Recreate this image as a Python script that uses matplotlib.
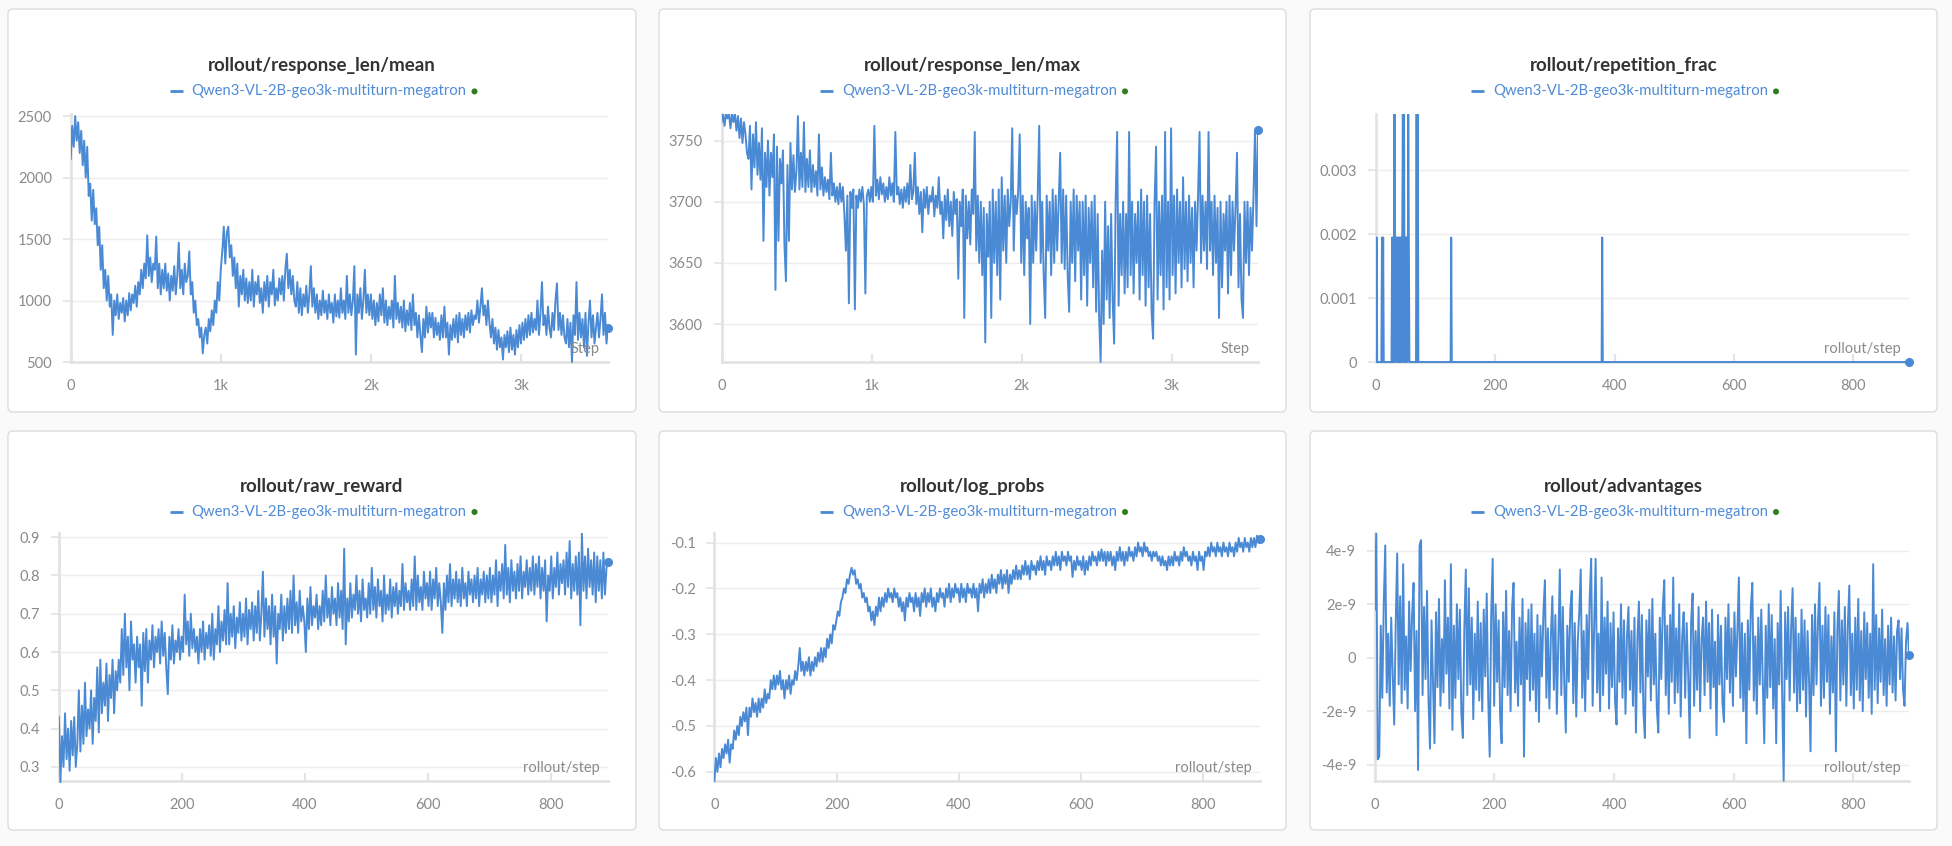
import numpy as np
import matplotlib
matplotlib.use("Agg")
import matplotlib.pyplot as plt
from matplotlib.patches import FancyBboxPatch, Ellipse
from matplotlib.lines import Line2D
from matplotlib.transforms import IdentityTransform, Bbox, TransformedBbox

plt.rcParams['font.family'] = ['Lato', 'DejaVu Sans']

# ---------------- data ----------------
RUN_NAME = "Qwen3-VL-2B-geo3k-multiturn-megatron"
TITLES = ["rollout/response_len/mean", "rollout/response_len/max", "rollout/repetition_frac",
          "rollout/raw_reward", "rollout/log_probs", "rollout/advantages"]
X_LABELS = ["Step", "Step", "rollout/step", "rollout/step", "rollout/step", "rollout/step"]
LAST_STEP = 3576
LAST_ROLLOUT_STEP = 893

# sampled every ~10 steps (0 .. 3576)
resp_len_mean = [
    2150, 2420, 2250, 2500, 2300, 2450, 2200, 2380, 2100, 2300,
    2000, 2250, 1850, 1950, 1650, 1900, 1620, 1750, 1450, 1600,
    1250, 1450, 1100, 1250, 1000, 1200, 950, 1050, 720, 1000,
    880, 1050, 850, 980, 900, 1020, 830, 1000, 880, 1060,
    920, 1050, 980, 1120, 950, 1150, 1050, 1250, 1100, 1300,
    1180, 1530, 1200, 1350, 1150, 1300, 1250, 1520, 1100, 1300,
    1050, 1250, 1100, 1300, 1080, 1220, 1000, 1200, 1080, 1280,
    1050, 1200, 1470, 1100, 1250, 1050, 1300, 1150, 1200, 1400,
    1050, 1150, 900, 1000, 800, 850, 700, 780, 570, 720,
    780, 650, 850, 750, 920, 800, 1000, 900, 1150, 1000,
    1250, 1400, 1600, 1300, 1550, 1600, 1350, 1450, 1200, 1350,
    1100, 1300, 950, 1200, 1050, 1250, 1000, 1180, 980, 1150,
    1000, 1250, 950, 1150, 1050, 1200, 980, 1100, 900, 1150,
    1000, 1200, 950, 1150, 1050, 1250, 960, 1100, 1000, 1180,
    1050, 1200, 1000, 1250, 1380, 1100, 1250, 1050, 1200, 1000,
    950, 1150, 900, 1100, 880, 1050, 950, 1120, 900, 1050,
    1280, 950, 1100, 900, 1050, 850, 1000, 880, 1080, 900,
    1000, 850, 1050, 900, 980, 820, 1050, 870, 1000, 860,
    1100, 900, 1000, 850, 1200, 900, 1050, 880, 1000, 1280,
    560, 1050, 900, 1100, 850, 1000, 1250, 900, 1050, 880,
    1050, 850, 1000, 800, 980, 830, 1050, 880, 1100, 820,
    1000, 800, 950, 850, 1000, 780, 1200, 850, 980, 820,
    950, 780, 1000, 750, 920, 800, 980, 760, 1050, 800,
    900, 700, 880, 720, 580, 850, 700, 950, 740, 900,
    780, 900, 700, 860, 720, 820, 680, 880, 700, 950,
    700, 820, 560, 800, 680, 850, 700, 880, 660, 900,
    720, 850, 700, 880, 760, 900, 740, 920, 800, 880,
    850, 1000, 820, 950, 1100, 880, 960, 800, 1000, 820,
    700, 850, 650, 780, 600, 760, 620, 700, 520, 720,
    620, 750, 580, 780, 600, 720, 560, 760, 620, 800,
    650, 820, 680, 850, 700, 880, 720, 900, 740, 850,
    760, 1000, 720, 900, 1150, 800, 880, 720, 950, 780,
    700, 900, 760, 1000, 1140, 760, 900, 720, 880, 700,
    650, 850, 620, 820, 500, 880, 720, 1150, 680, 900,
    700, 850, 620, 900, 550, 820, 1000, 700, 880, 650,
    780, 900, 700, 850, 1050, 720, 900, 650, 780]

resp_len_max = [
    3765, 3772, 3762, 3772, 3768, 3772, 3760, 3772, 3765, 3772,
    3758, 3770, 3752, 3768, 3748, 3765, 3755, 3740, 3735, 3762,
    3710, 3755, 3728, 3765, 3722, 3748, 3718, 3760, 3668, 3740,
    3712, 3750, 3705, 3740, 3720, 3755, 3628, 3745, 3668, 3735,
    3715, 3742, 3665, 3635, 3730, 3668, 3748, 3710, 3738, 3708,
    3725, 3770, 3710, 3740, 3712, 3765, 3708, 3735, 3712, 3742,
    3708, 3730, 3712, 3725, 3705, 3755, 3710, 3728, 3705, 3720,
    3708, 3718, 3702, 3740, 3705, 3715, 3700, 3712, 3698, 3715,
    3700, 3712, 3690, 3660, 3705, 3617, 3708, 3695, 3710, 3612,
    3705, 3695, 3710, 3700, 3712, 3698, 3625, 3705, 3710, 3700,
    3712, 3700, 3762, 3705, 3718, 3702, 3720, 3706, 3715, 3700,
    3712, 3702, 3720, 3705, 3715, 3700, 3757, 3706, 3712, 3698,
    3710, 3695, 3712, 3700, 3715, 3698, 3730, 3702, 3708, 3740,
    3698, 3712, 3690, 3708, 3675, 3710, 3695, 3712, 3690, 3705,
    3700, 3712, 3688, 3705, 3695, 3720, 3690, 3700, 3670, 3705,
    3685, 3710, 3680, 3700, 3672, 3708, 3690, 3702, 3637, 3700,
    3680, 3710, 3605, 3705, 3670, 3700, 3665, 3710, 3690, 3757,
    3660, 3705, 3650, 3700, 3640, 3695, 3585, 3690, 3655, 3700,
    3605, 3710, 3650, 3700, 3640, 3710, 3620, 3720, 3660, 3705,
    3650, 3710, 3680, 3700, 3760, 3660, 3705, 3690, 3710, 3755,
    3650, 3705, 3640, 3700, 3670, 3695, 3600, 3705, 3650, 3700,
    3660, 3705, 3762, 3650, 3700, 3640, 3605, 3705, 3660, 3700,
    3640, 3710, 3650, 3705, 3660, 3700, 3740, 3650, 3710, 3645,
    3705, 3640, 3610, 3700, 3650, 3710, 3635, 3705, 3660, 3700,
    3620, 3700, 3640, 3705, 3615, 3695, 3650, 3700, 3630, 3705,
    3610, 3690, 3605, 3569, 3660, 3600, 3700, 3620, 3680, 3605,
    3690, 3620, 3584, 3700, 3757, 3615, 3690, 3640, 3700, 3625,
    3690, 3630, 3757, 3640, 3700, 3625, 3690, 3650, 3700, 3620,
    3710, 3640, 3700, 3615, 3705, 3630, 3690, 3610, 3588, 3700,
    3745, 3620, 3700, 3640, 3705, 3612, 3757, 3630, 3700, 3620,
    3760, 3640, 3705, 3625, 3710, 3650, 3700, 3630, 3720, 3645,
    3700, 3635, 3705, 3650, 3695, 3630, 3700, 3660, 3705, 3757,
    3650, 3705, 3660, 3700, 3645, 3757, 3660, 3700, 3640, 3705,
    3650, 3695, 3605, 3700, 3630, 3690, 3660, 3700, 3625, 3705,
    3640, 3700, 3660, 3695, 3740, 3630, 3690, 3620, 3605, 3700,
    3650, 3700, 3640, 3695, 3660, 3705, 3758, 3680, 3759]

# repetition_frac is 0 everywhere except at these rollout steps
rep_frac_steps = [1, 10, 12, 27, 29, 31, 33, 34, 36, 38, 40, 42, 44, 45, 47, 49, 51, 52,
                  54, 55, 68, 70, 126, 379]
rep_frac_values = [0.00195, 0.00195, 0.00195, 0.00195, 0.00195, 0.0039, 0.00195, 0.00195,
                   0.00195, 0.00195, 0.00195, 0.00195, 0.00195, 0.0039, 0.0039, 0.00195,
                   0.00195, 0.00195, 0.0039, 0.00195, 0.0039, 0.0039, 0.00195, 0.00195]

# sampled every ~2.5 rollout steps (0 .. 893)
raw_reward = [
    0.43, 0.26, 0.38, 0.30, 0.44, 0.32, 0.40, 0.29, 0.42, 0.33,
    0.43, 0.30, 0.36, 0.50, 0.34, 0.46, 0.36, 0.52, 0.38, 0.45,
    0.40, 0.50, 0.36, 0.48, 0.42, 0.56, 0.39, 0.58, 0.44, 0.52,
    0.46, 0.57, 0.42, 0.54, 0.48, 0.58, 0.44, 0.55, 0.50, 0.58,
    0.52, 0.66, 0.54, 0.70, 0.56, 0.64, 0.50, 0.68, 0.58, 0.62,
    0.52, 0.64, 0.56, 0.62, 0.46, 0.65, 0.55, 0.66, 0.52, 0.63,
    0.58, 0.67, 0.56, 0.64, 0.60, 0.66, 0.57, 0.68, 0.59, 0.65,
    0.56, 0.49, 0.64, 0.58, 0.67, 0.57, 0.63, 0.60, 0.66, 0.58,
    0.64, 0.60, 0.75, 0.62, 0.68, 0.59, 0.70, 0.61, 0.66, 0.60,
    0.64, 0.57, 0.66, 0.60, 0.68, 0.58, 0.65, 0.61, 0.67, 0.59,
    0.70, 0.58, 0.66, 0.62, 0.72, 0.60, 0.68, 0.63, 0.71, 0.62,
    0.78, 0.62, 0.70, 0.64, 0.72, 0.61, 0.69, 0.65, 0.73, 0.63,
    0.70, 0.64, 0.74, 0.62, 0.71, 0.66, 0.73, 0.63, 0.72, 0.65,
    0.76, 0.63, 0.70, 0.81, 0.64, 0.74, 0.66, 0.72, 0.62, 0.75,
    0.64, 0.72, 0.57, 0.70, 0.66, 0.75, 0.63, 0.72, 0.65, 0.74,
    0.66, 0.76, 0.65, 0.80, 0.67, 0.73, 0.65, 0.76, 0.68, 0.72,
    0.68, 0.60, 0.74, 0.66, 0.77, 0.67, 0.72, 0.69, 0.75, 0.66,
    0.72, 0.67, 0.76, 0.68, 0.80, 0.69, 0.74, 0.67, 0.77, 0.70,
    0.74, 0.67, 0.78, 0.69, 0.76, 0.66, 0.87, 0.62, 0.74, 0.68,
    0.78, 0.69, 0.75, 0.71, 0.80, 0.70, 0.76, 0.68, 0.79, 0.71,
    0.74, 0.69, 0.78, 0.70, 0.82, 0.71, 0.77, 0.69, 0.79, 0.72,
    0.76, 0.68, 0.80, 0.70, 0.75, 0.71, 0.79, 0.69, 0.77, 0.72,
    0.78, 0.70, 0.76, 0.72, 0.83, 0.71, 0.78, 0.73, 0.76, 0.71,
    0.79, 0.72, 0.85, 0.71, 0.80, 0.73, 0.77, 0.71, 0.81, 0.74,
    0.78, 0.72, 0.81, 0.71, 0.79, 0.74, 0.82, 0.72, 0.78, 0.73,
    0.65, 0.78, 0.71, 0.80, 0.73, 0.83, 0.72, 0.79, 0.74, 0.81,
    0.73, 0.79, 0.72, 0.82, 0.74, 0.78, 0.72, 0.81, 0.75, 0.79,
    0.73, 0.80, 0.74, 0.82, 0.72, 0.79, 0.75, 0.81, 0.73, 0.80,
    0.74, 0.82, 0.73, 0.80, 0.75, 0.84, 0.72, 0.81, 0.76, 0.83,
    0.74, 0.88, 0.75, 0.82, 0.73, 0.84, 0.76, 0.81, 0.74, 0.83,
    0.76, 0.85, 0.74, 0.81, 0.77, 0.84, 0.75, 0.82, 0.76, 0.85,
    0.75, 0.83, 0.77, 0.85, 0.74, 0.82, 0.76, 0.84, 0.68, 0.80,
    0.76, 0.85, 0.74, 0.82, 0.77, 0.86, 0.75, 0.83, 0.78, 0.84,
    0.75, 0.86, 0.77, 0.89, 0.74, 0.83, 0.76, 0.85, 0.75, 0.86,
    0.67, 0.91, 0.76, 0.85, 0.74, 0.87, 0.77, 0.84, 0.75, 0.86,
    0.73, 0.85, 0.76, 0.84, 0.74, 0.86, 0.75, 0.82, 0.835]

log_probs = [
    -0.62, -0.57, -0.60, -0.56, -0.59, -0.55, -0.57, -0.54, -0.56, -0.53,
    -0.58, -0.54, -0.55, -0.51, -0.53, -0.50, -0.52, -0.48, -0.50, -0.47,
    -0.49, -0.46, -0.52, -0.46, -0.48, -0.44, -0.47, -0.45, -0.48, -0.44,
    -0.47, -0.44, -0.46, -0.42, -0.45, -0.43, -0.44, -0.40, -0.42, -0.39,
    -0.42, -0.39, -0.41, -0.38, -0.42, -0.40, -0.44, -0.40, -0.42, -0.39,
    -0.43, -0.40, -0.41, -0.38, -0.40, -0.37, -0.33, -0.38, -0.36, -0.39,
    -0.36, -0.38, -0.35, -0.39, -0.36, -0.38, -0.35, -0.37, -0.34, -0.36,
    -0.33, -0.36, -0.33, -0.35, -0.31, -0.33, -0.30, -0.32, -0.28, -0.29,
    -0.27, -0.25, -0.26, -0.23, -0.22, -0.20, -0.21, -0.18, -0.19, -0.17,
    -0.155, -0.17, -0.16, -0.19, -0.18, -0.20, -0.19, -0.22, -0.21, -0.23,
    -0.22, -0.25, -0.24, -0.27, -0.25, -0.28, -0.24, -0.26, -0.22, -0.25,
    -0.22, -0.24, -0.21, -0.23, -0.20, -0.22, -0.21, -0.23, -0.20, -0.22,
    -0.21, -0.24, -0.22, -0.25, -0.23, -0.27, -0.22, -0.24, -0.21, -0.23,
    -0.22, -0.25, -0.21, -0.24, -0.22, -0.26, -0.21, -0.23, -0.20, -0.24,
    -0.21, -0.23, -0.20, -0.24, -0.22, -0.25, -0.21, -0.23, -0.20, -0.22,
    -0.21, -0.24, -0.20, -0.22, -0.19, -0.23, -0.20, -0.22, -0.19, -0.21,
    -0.20, -0.23, -0.19, -0.22, -0.20, -0.23, -0.19, -0.21, -0.20, -0.22,
    -0.19, -0.22, -0.20, -0.25, -0.19, -0.21, -0.18, -0.22, -0.19, -0.21,
    -0.18, -0.21, -0.17, -0.20, -0.18, -0.21, -0.17, -0.19, -0.16, -0.20,
    -0.17, -0.19, -0.16, -0.21, -0.17, -0.19, -0.16, -0.18, -0.15, -0.18,
    -0.16, -0.18, -0.15, -0.17, -0.14, -0.17, -0.15, -0.18, -0.14, -0.16,
    -0.15, -0.17, -0.14, -0.16, -0.13, -0.16, -0.14, -0.17, -0.13, -0.15,
    -0.14, -0.16, -0.13, -0.15, -0.12, -0.15, -0.13, -0.16, -0.12, -0.14,
    -0.13, -0.15, -0.12, -0.14, -0.13, -0.175, -0.14, -0.16, -0.13, -0.15,
    -0.14, -0.16, -0.13, -0.17, -0.14, -0.16, -0.13, -0.15, -0.12, -0.14,
    -0.13, -0.15, -0.12, -0.14, -0.115, -0.14, -0.12, -0.15, -0.12, -0.14,
    -0.12, -0.15, -0.13, -0.16, -0.12, -0.14, -0.11, -0.14, -0.12, -0.15,
    -0.12, -0.14, -0.11, -0.13, -0.12, -0.14, -0.11, -0.13, -0.10, -0.12,
    -0.11, -0.13, -0.10, -0.12, -0.11, -0.13, -0.12, -0.14, -0.12, -0.13,
    -0.12, -0.14, -0.13, -0.15, -0.13, -0.15, -0.14, -0.16, -0.13, -0.15,
    -0.13, -0.15, -0.12, -0.14, -0.13, -0.15, -0.12, -0.14, -0.11, -0.13,
    -0.12, -0.14, -0.13, -0.15, -0.12, -0.14, -0.13, -0.16, -0.12, -0.14,
    -0.13, -0.16, -0.12, -0.13, -0.11, -0.13, -0.10, -0.12, -0.11, -0.13,
    -0.10, -0.12, -0.11, -0.13, -0.10, -0.12, -0.11, -0.13, -0.10, -0.12,
    -0.11, -0.13, -0.10, -0.12, -0.09, -0.11, -0.10, -0.12, -0.09, -0.11,
    -0.10, -0.12, -0.09, -0.11, -0.09, -0.11, -0.085, -0.10, -0.093]

# advantages in units of 1e-9
advantages_e9 = [
    1.8, 4.7, -3.8, -3.7, 1.2, -1.5, 2.0, 4.2, -1.3, 0.9,
    -1.8, 1.5, -0.6, -2.5, 1.2, 3.9, -1.0, 2.3, -1.7, 3.5,
    -1.2, 0.8, -1.9, 2.1, -0.5, 1.6, 2.8, -2.0, 1.0, -4.2,
    4.2, 4.4, -1.4, 1.9, -0.8, 2.5, -1.6, -3.4, 1.4, -0.9,
    -3.2, 1.7, -1.1, 2.2, -1.8, 0.7, -1.3, 2.9, -0.6, 1.5,
    -1.9, 3.5, -2.7, 1.2, -1.5, 2.0, -0.8, 1.8, -2.1, -3.0,
    1.1, 3.3, -1.4, 2.6, -1.0, 1.5, -2.3, 0.9, -1.2, 2.1,
    -1.6, 1.3, -2.0, 1.8, -0.7, 2.4, -1.5, -3.7, 1.6, 3.7,
    -1.8, 2.0, -0.9, 1.4, -2.2, -3.2, 1.7, -1.1, 2.5, -1.4,
    1.0, -2.0, 1.9, 2.8, -1.3, 0.6, -1.8, 1.5, -1.0, 2.2,
    -3.7, 1.3, -0.8, 1.8, -1.6, 2.0, -1.2, 0.9, -2.0, 1.6,
    -2.4, 1.2, -0.7, 1.7, 2.9, -1.5, 1.1, -1.9, 0.8, 2.3,
    -1.2, 1.6, -2.1, 0.7, 3.3, -1.4, 1.9, -1.0, -2.8, 1.2,
    -0.9, 1.8, 2.5, -1.7, 1.3, -2.2, 0.6, 1.7, 3.3, -1.5,
    1.0, -2.0, 1.6, -0.8, 2.2, 3.7, -1.8, 1.2, 3.7, -1.3,
    0.9, -2.0, 3.0, -1.4, 1.5, -0.6, 2.1, -1.9, 1.3, -1.1,
    1.7, -1.6, -2.5, 1.1, -0.9, 2.0, -1.5, 1.4, -2.1, 0.8,
    1.9, -1.2, 1.0, -1.8, 1.5, -2.8, 0.7, 2.1, -1.3, 1.6,
    -2.0, -3.0, 1.4, -0.7, 1.8, -1.6, 2.2, -1.0, 0.9, -1.9,
    -2.8, 1.5, -0.8, 1.9, 2.9, -1.4, 1.2, -2.1, 1.6, -0.9,
    3.0, -1.7, 1.1, -1.3, 2.0, -2.2, 0.8, 1.7, -1.5, 1.3,
    -0.6, -3.0, 1.4, 2.4, -1.8, 1.0, -1.2, 1.9, -2.0, 0.7,
    1.5, -1.4, 2.1, -0.9, 1.3, -1.9, 1.8, -1.1, 0.6, -2.9,
    1.6, -1.0, 1.2, -1.7, -2.4, 1.5, -0.8, 2.0, -1.3, 1.1,
    -1.8, 1.7, -0.7, 1.0, 3.0, -1.5, 1.3, -2.0, 0.9, -3.2,
    1.4, -1.2, 1.9, 2.8, -1.6, 0.8, -2.1, 1.5, -1.0, 1.8,
    -0.9, -3.2, 1.2, -1.5, 2.0, -1.1, 1.6, -1.9, 0.7, -3.2,
    1.3, -1.0, 2.5, -1.4, -4.6, 1.7, -0.8, 1.9, -1.6, 1.1,
    2.6, -1.3, 1.5, -2.0, 0.9, -1.7, 1.8, -1.2, 1.4, -2.2,
    1.0, -0.8, -3.5, 1.6, -1.4, 2.0, -1.0, 1.3, 2.8, -1.8,
    1.2, -1.5, 1.9, -0.9, 1.6, -2.1, 0.8, -1.3, 1.7, -3.5,
    1.1, 2.5, -1.6, 1.4, -1.0, 1.9, -1.8, 1.2, 2.7, -1.4,
    0.9, -1.9, 1.5, -1.2, 2.2, -1.6, 1.0, -2.0, 1.7, -0.8,
    1.3, -1.5, 0.9, -2.1, 3.5, -1.2, 1.6, -1.7, 1.1, -0.9,
    1.8, -1.4, 0.7, -1.8, 1.2, -1.0, 1.5, -1.3, 0.8, -1.6,
    1.0, 1.4, -0.8, 1.1, -1.2, -1.8, 0.6, 1.3, 0.1]

# y ticks / labels / limits per panel
Y_TICKS = [[500, 1000, 1500, 2000, 2500],
           [3600, 3650, 3700, 3750],
           [0, 0.001, 0.002, 0.003],
           [0.3, 0.4, 0.5, 0.6, 0.7, 0.8, 0.9],
           [-0.6, -0.5, -0.4, -0.3, -0.2, -0.1],
           [-4e-9, -2e-9, 0, 2e-9, 4e-9]]
Y_TICK_LABELS = [["500", "1000", "1500", "2000", "2500"],
                 ["3600", "3650", "3700", "3750"],
                 ["0", "0.001", "0.002", "0.003"],
                 ["0.3", "0.4", "0.5", "0.6", "0.7", "0.8", "0.9"],
                 ["-0.6", "-0.5", "-0.4", "-0.3", "-0.2", "-0.1"],
                 ["-4e-9", "-2e-9", "0", "2e-9", "4e-9"]]
Y_LIMS = [(500, 2520), (3569, 3772), (0, 0.00389), (0.263, 0.91), (-0.62, -0.08), (-4.61e-9, 4.65e-9)]
X_TICKS_STEP = [0, 1000, 2000, 3000]
X_TICK_LABELS_STEP = ["0", "1k", "2k", "3k"]
X_TICKS_ROLL = [0, 200, 400, 600, 800]
X_TICK_LABELS_ROLL = ["0", "200", "400", "600", "800"]

# ---------------- series ----------------
rollout_x = np.arange(LAST_ROLLOUT_STEP + 1)
rep_frac = np.zeros(LAST_ROLLOUT_STEP + 1)
rep_frac[rep_frac_steps] = rep_frac_values

series = [
    (np.linspace(0, LAST_STEP, len(resp_len_mean)), np.array(resp_len_mean, float)),
    (np.linspace(0, LAST_STEP, len(resp_len_max)), np.array(resp_len_max, float)),
    (rollout_x, rep_frac),
    (np.linspace(0, LAST_ROLLOUT_STEP, len(raw_reward)), np.array(raw_reward)),
    (np.linspace(0, LAST_ROLLOUT_STEP, len(log_probs)), np.array(log_probs)),
    (np.linspace(0, LAST_ROLLOUT_STEP, len(advantages_e9)), np.array(advantages_e9) * 1e-9),
]

# ---------------- layout (pixels) ----------------
W, H = 1952, 846
LINE_C = "#4a89d4"
GRID_C = "#ededed"
AXIS_C = "#e3e3e3"
TICK_TXT = "#8a8a8a"

fig = plt.figure(figsize=(W / 100, H / 100), dpi=100)
fig.patch.set_facecolor("#fafafa")

boxes = [(8, 9, 636, 412), (659, 9, 1286, 412), (1310, 9, 1937, 412),
         (8, 431, 636, 830), (659, 431, 1286, 830), (1310, 431, 1937, 830)]
axes_px = [(70.7, 113.6, 608, 362), (721.5, 113.6, 1258, 362), (1376, 113.6, 1909, 362),
           (58.9, 533.4, 608, 781), (714.4, 533.4, 1260, 781), (1374.8, 533.4, 1909, 781)]
title_y = [65.5, 65.5, 65.5, 486.7, 486.7, 486.7]
legend_y = [91.4, 91.4, 91.4, 512, 512, 512]

for (x0, y0, x1, y1) in boxes:
    p = FancyBboxPatch((x0, H - y1), x1 - x0, y1 - y0,
                       boxstyle="round,pad=0,rounding_size=5",
                       transform=IdentityTransform(), facecolor="white",
                       edgecolor="#dcdcdc", linewidth=1.0, zorder=-5)
    fig.patches.append(p)

axes = []
for i in range(6):
    l, t, r, b = axes_px[i]
    ax = fig.add_axes([l / W, 1 - b / H, (r - l) / W, (b - t) / H])
    ax.set_zorder(1)
    ax.set_facecolor("none")
    x, y = series[i]
    line, = ax.plot(x, y, color=LINE_C, lw=1.4, zorder=3)
    clipbox = TransformedBbox(Bbox([[0, -0.03], [1, 1]]), ax.transAxes)
    line.set_clip_box(clipbox)
    ax.plot([x[-1]], [y[-1]], "o", color=LINE_C, ms=5.5, zorder=4, clip_on=False)
    ax.set_ylim(*Y_LIMS[i])
    if i < 2:
        ax.set_xlim(0, LAST_STEP)
        ax.set_xticks(X_TICKS_STEP)
        ax.set_xticklabels(X_TICK_LABELS_STEP)
    else:
        ax.set_xlim(0, LAST_ROLLOUT_STEP)
        ax.set_xticks(X_TICKS_ROLL)
        ax.set_xticklabels(X_TICK_LABELS_ROLL)
    ax.set_yticks(Y_TICKS[i])
    ax.set_yticklabels(Y_TICK_LABELS[i])
    for s in ["top", "right"]:
        ax.spines[s].set_visible(False)
    for s in ["left", "bottom"]:
        ax.spines[s].set_color(AXIS_C)
        ax.spines[s].set_linewidth(2.0)
        ax.spines[s].set_zorder(1)
    ax.yaxis.grid(True, color=GRID_C, lw=1.0, zorder=0)
    ax.set_axisbelow(True)
    ax.tick_params(axis="y", direction="out", length=5.5, width=1.2, color=AXIS_C,
                   labelcolor=TICK_TXT, labelsize=10.5, pad=8)
    ax.tick_params(axis="x", direction="in", length=5.5, width=1.5, color=AXIS_C,
                   labelcolor=TICK_TXT, labelsize=10.5, pad=12)
    ax.text(0.985, 0.025, X_LABELS[i], transform=ax.transAxes, ha="right", va="bottom",
            fontsize=10.5, color=TICK_TXT, zorder=5)
    axes.append(ax)

# titles and legends
leg_texts = []
for i in range(6):
    bx0, by0, bx1, by1 = boxes[i]
    cx = (bx0 + bx1) / 2
    fig.text(cx / W, 1 - title_y[i] / H, TITLES[i], ha="center", va="center",
             fontsize=13.5, fontweight="bold", color="#333333")
    t = fig.text((cx + 7) / W, 1 - legend_y[i] / H, RUN_NAME, ha="center", va="center",
                 fontsize=10.7, color="#4f8bd6")
    leg_texts.append(t)

fig.canvas.draw()
renderer = fig.canvas.get_renderer()
for i, t in enumerate(leg_texts):
    bb = t.get_window_extent(renderer)
    yc = H - legend_y[i]
    fig.lines.append(Line2D([bb.x0 - 22, bb.x0 - 9], [yc, yc], transform=IdentityTransform(),
                            color=LINE_C, lw=2.0, solid_capstyle="butt"))
    fig.patches.append(Ellipse((bb.x1 + 8, yc), 6, 6, transform=IdentityTransform(),
                               facecolor="#2e7d1f", edgecolor="none"))

fig.savefig("out.png", dpi=100, facecolor=fig.get_facecolor())
